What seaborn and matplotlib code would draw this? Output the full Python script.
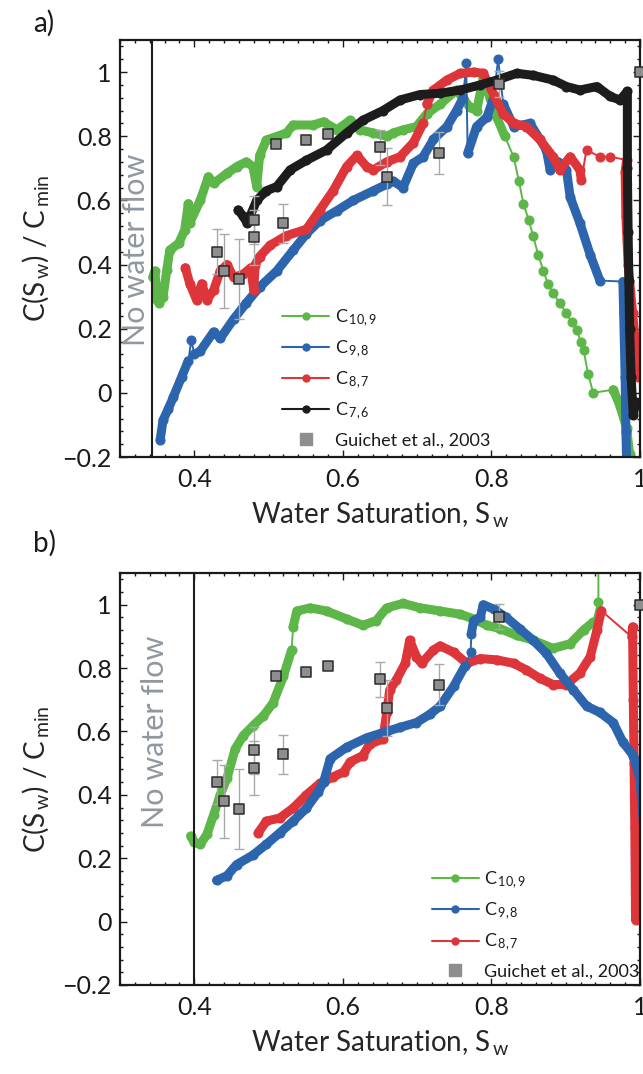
import numpy as np
import pandas as pd
import matplotlib
matplotlib.use('Agg')
import matplotlib.pyplot as plt
import matplotlib.ticker as mticker
from matplotlib.lines import Line2D
import seaborn as sns

# ── Data: panel a ────────────────────────────────────────────
a_green_x = [0.344, 0.347, 0.350, 0.353, 0.358, 0.363, 0.367, 0.379, 0.387, 0.392,
             0.394, 0.408, 0.419, 0.426, 0.444, 0.457, 0.470, 0.479, 0.484, 0.488,
             0.497, 0.524, 0.533, 0.560, 0.574, 0.592, 0.610, 0.623, 0.641, 0.659,
             0.668, 0.681, 0.699, 0.713, 0.731, 0.753, 0.771, 0.780, 0.789, 0.798,
             0.807, 0.818, 0.830, 0.837, 0.843, 0.850, 0.856, 0.863, 0.870, 0.876,
             0.883, 0.892, 0.901, 0.908, 0.915, 0.920, 0.924, 0.930, 0.937, 0.964,
             0.973, 0.982, 0.986, 0.988]
a_green_y = [0.36, 0.38, 0.29, 0.28, 0.30, 0.383, 0.445, 0.466, 0.507, 0.59,
             0.53, 0.60, 0.674, 0.653, 0.684, 0.705, 0.72, 0.705, 0.643, 0.74,
             0.788, 0.81, 0.835, 0.835, 0.845, 0.82, 0.85, 0.82, 0.81, 0.80,
             0.81, 0.82, 0.83, 0.87, 0.90, 0.944, 0.89, 0.88, 0.98, 0.92,
             0.86, 0.80, 0.735, 0.66, 0.59, 0.54, 0.49, 0.43, 0.38, 0.34,
             0.31, 0.28, 0.248, 0.22, 0.196, 0.16, 0.134, 0.06, 0.0, 0.01,
             -0.04, -0.11, -0.19, -0.22]
a_green_thin = list(range(41, 59))

a_blue_x = [0.354, 0.358, 0.365, 0.372, 0.383, 0.392, 0.396, 0.400, 0.408, 0.426,
            0.435, 0.453, 0.470, 0.488, 0.511, 0.533, 0.551, 0.569, 0.592, 0.614,
            0.641, 0.659, 0.668, 0.681, 0.695, 0.708, 0.722, 0.740, 0.753, 0.762,
            0.766, 0.768, 0.780, 0.794, 0.803, 0.809, 0.816, 0.830, 0.852, 0.874,
            0.879, 0.890, 0.901, 0.906, 0.919, 0.933, 0.946, 0.977, 0.978, 0.980,
            0.981, 0.982]
a_blue_y = [-0.147, -0.085, -0.05, -0.012, 0.05, 0.10, 0.165, 0.12, 0.13, 0.19,
            0.17, 0.23, 0.28, 0.33, 0.38, 0.444, 0.496, 0.537, 0.568, 0.60,
            0.63, 0.65, 0.66, 0.64, 0.716, 0.736, 0.79, 0.83, 0.88, 0.92,
            1.027, 0.747, 0.83, 0.86, 0.92, 1.04, 0.90, 0.83, 0.84, 0.757,
            0.695, 0.72, 0.695, 0.61, 0.53, 0.43, 0.35, 0.347, 0.25, 0.05,
            -0.12, -0.21]
a_blue_thin = [5, 6, 29, 30, 34, 35, 46]

a_red_x = [0.388, 0.394, 0.403, 0.410, 0.417, 0.426, 0.435, 0.444, 0.453, 0.466,
           0.476, 0.480, 0.482, 0.488, 0.502, 0.524, 0.551, 0.569, 0.587, 0.605,
           0.619, 0.632, 0.641, 0.659, 0.677, 0.695, 0.708, 0.713, 0.722, 0.740,
           0.758, 0.776, 0.789, 0.803, 0.816, 0.830, 0.847, 0.865, 0.883, 0.892,
           0.906, 0.919, 0.921, 0.928, 0.946, 0.960, 0.982, 0.980, 0.981, 0.984,
           0.990, 0.995, 0.997]
a_red_y = [0.39, 0.34, 0.29, 0.34, 0.29, 0.32, 0.38, 0.40, 0.36, 0.37,
           0.39, 0.32, 0.40, 0.425, 0.46, 0.49, 0.51, 0.57, 0.63, 0.705,
           0.74, 0.705, 0.695, 0.72, 0.736, 0.78, 0.84, 0.90, 0.944, 0.975,
           0.996, 1.0, 0.996, 0.93, 0.87, 0.84, 0.83, 0.79, 0.736, 0.695,
           0.736, 0.695, 0.665, 0.757, 0.736, 0.736, 0.726, 0.69, 0.55, 0.40,
           0.25, 0.12, 0.05]
a_red_thin = [26, 42, 43, 44, 45]

a_black_x = [0.459, 0.466, 0.471, 0.475, 0.484, 0.497, 0.511, 0.529, 0.551, 0.578,
             0.605, 0.627, 0.654, 0.677, 0.704, 0.731, 0.758, 0.785, 0.807, 0.834,
             0.856, 0.883, 0.901, 0.919, 0.942, 0.960, 0.973, 0.983, 0.983, 0.984,
             0.985, 0.986, 0.988, 0.991, 0.994]
a_black_y = [0.57, 0.55, 0.53, 0.55, 0.60, 0.63, 0.643, 0.695, 0.725, 0.757,
             0.81, 0.85, 0.88, 0.913, 0.93, 0.934, 0.944, 0.96, 0.975, 0.996,
             0.99, 0.975, 0.955, 0.944, 0.955, 0.924, 0.913, 0.94, 0.70, 0.50,
             0.35, 0.20, 0.05, -0.07, -0.03]
a_black_thin = []

a_noflow = 0.343

# ── Data: panel b ────────────────────────────────────────────
b_green_x = [0.395, 0.400, 0.408, 0.417, 0.426, 0.435, 0.444, 0.455, 0.466, 0.479,
             0.493, 0.506, 0.520, 0.531, 0.533, 0.538, 0.556, 0.578, 0.605, 0.627,
             0.645, 0.659, 0.681, 0.704, 0.731, 0.758, 0.776, 0.794, 0.812, 0.834,
             0.856, 0.883, 0.906, 0.924, 0.937, 0.944, 0.944]
b_green_y = [0.27, 0.25, 0.244, 0.275, 0.337, 0.40, 0.452, 0.545, 0.587, 0.618,
             0.649, 0.69, 0.774, 0.857, 0.929, 0.98, 0.99, 0.98, 0.955, 0.935,
             0.95, 0.99, 1.004, 0.99, 0.98, 0.97, 0.955, 0.935, 0.924, 0.903,
             0.888, 0.862, 0.877, 0.92, 0.945, 1.01, 1.12]
b_green_thin = [13, 34, 35]

b_blue_x = [0.430, 0.444, 0.457, 0.479, 0.497, 0.515, 0.533, 0.551, 0.567, 0.574,
            0.583, 0.605, 0.632, 0.659, 0.677, 0.699, 0.717, 0.731, 0.749, 0.764,
            0.772, 0.773, 0.776, 0.785, 0.789, 0.803, 0.820, 0.838, 0.856, 0.874,
            0.892, 0.910, 0.928, 0.946, 0.964, 0.977, 0.991, 1.000, 1.005]
b_blue_y = [0.13, 0.145, 0.18, 0.21, 0.244, 0.28, 0.317, 0.358, 0.41, 0.44,
            0.514, 0.55, 0.58, 0.60, 0.613, 0.628, 0.654, 0.68, 0.742, 0.805,
            0.85, 0.909, 0.95, 0.96, 1.0, 0.986, 0.96, 0.924, 0.888, 0.846,
            0.784, 0.732, 0.68, 0.66, 0.628, 0.566, 0.524, 0.45, 0.30]
b_blue_thin = [19, 20]

b_red_x = [0.486, 0.497, 0.515, 0.533, 0.551, 0.569, 0.587, 0.601, 0.610, 0.627,
           0.636, 0.654, 0.659, 0.663, 0.672, 0.684, 0.690, 0.699, 0.706, 0.722,
           0.731, 0.749, 0.767, 0.785, 0.807, 0.830, 0.847, 0.865, 0.883, 0.901,
           0.919, 0.933, 0.942, 0.948, 0.989, 0.990, 0.991, 0.992, 0.993, 0.994]
b_red_y = [0.28, 0.317, 0.327, 0.358, 0.40, 0.436, 0.457, 0.472, 0.504, 0.524,
           0.56, 0.576, 0.66, 0.73, 0.763, 0.815, 0.888, 0.836, 0.815, 0.857,
           0.87, 0.85, 0.815, 0.83, 0.826, 0.815, 0.794, 0.768, 0.748, 0.748,
           0.784, 0.836, 0.919, 0.981, 0.898, 0.93, 0.70, 0.50, 0.30, 0.005]
b_red_thin = [33]

b_noflow = 0.40

# ── Data: Guichet et al., 2003 (same in both panels) ─────────
guichet_x = [0.43, 0.44, 0.46, 0.48, 0.48, 0.51, 0.52, 0.55, 0.58, 0.65, 0.66, 0.73, 0.81, 1.00]
guichet_y = [0.44, 0.38, 0.355, 0.485, 0.54, 0.775, 0.528, 0.788, 0.806, 0.765, 0.674, 0.748, 0.962, 1.00]
guichet_err = [0.07, 0.115, 0.125, 0.085, 0.075, 0.0, 0.062, 0.0, 0.0, 0.055, 0.088, 0.066, 0.04, 0.0]

x_ticks = [0.4, 0.6, 0.8, 1.0]
x_ticklabels = ['0.4', '0.6', '0.8', '1']
y_ticks = [-0.2, 0, 0.2, 0.4, 0.6, 0.8, 1.0]
y_ticklabels = ['\u22120.2', '0', '0.2', '0.4', '0.6', '0.8', '1']

# ── Style ────────────────────────────────────────────────────
sns.set_theme(style='ticks')
plt.rcParams.update({
    'font.family': ['Lato', 'DejaVu Sans'],
    'mathtext.fontset': 'custom',
    'mathtext.rm': 'Lato',
    'mathtext.it': 'Lato:italic',
    'mathtext.bf': 'Lato:bold',
    'axes.edgecolor': '#1a1a1a',
    'axes.linewidth': 1.6,
    'text.color': '#1a1a1a',
    'xtick.color': '#1a1a1a',
    'ytick.color': '#1a1a1a',
})

GREEN = '#5cb648'
BLUE = '#2c65ad'
RED = '#dd3539'
BLACK = '#1c1c1c'
NOFLOW_GRAY = '#8f989f'


def draw_series(ax, xs, ys, color, thin):
    df = pd.DataFrame({'x': xs, 'y': ys})
    # thin line with dots through every reading
    sns.lineplot(data=df, x='x', y='y', sort=False, estimator=None, ax=ax,
                 color=color, lw=1.4, marker='o', markersize=6.5,
                 markeredgecolor=color, zorder=2)
    # dense stretches drawn as a thick band, broken at the sparse connectors
    start = 0
    for i in sorted(thin) + [len(xs) - 1]:
        seg = df.iloc[start:i + 1]
        if len(seg) > 1:
            sns.lineplot(data=seg, x='x', y='y', sort=False, estimator=None,
                         ax=ax, color=color, lw=6.5, zorder=2,
                         solid_capstyle='round', solid_joinstyle='round')
        start = i + 1


def style_axes(ax, noflow, text_xy):
    ax.axvline(noflow, color=BLACK, lw=1.5, zorder=3)
    ax.text(text_xy[0], text_xy[1], 'No water flow', rotation=90,
            ha='center', va='center', color=NOFLOW_GRAY, fontsize=22)

    ax.errorbar(guichet_x, guichet_y, yerr=guichet_err, fmt='none',
                ecolor='#a9a9a9', elinewidth=1.0, capsize=3.5, zorder=4)
    sns.scatterplot(x=guichet_x, y=guichet_y, ax=ax, marker='s', s=60,
                    color='#8e8e8e', edgecolor='#2b2b2b', linewidth=1.1,
                    zorder=5, clip_on=False)

    ax.set_xlim(0.3, 1.0)
    ax.set_ylim(-0.2, 1.1)
    ax.set_xticks(x_ticks)
    ax.set_xticklabels(x_ticklabels)
    ax.set_yticks(y_ticks)
    ax.set_yticklabels(y_ticklabels)
    ax.xaxis.set_minor_locator(mticker.MultipleLocator(0.02))
    ax.yaxis.set_minor_locator(mticker.MultipleLocator(0.04))
    ax.tick_params(which='both', direction='in', top=True, right=True,
                   width=1.0, labelsize=18)
    ax.tick_params(which='major', length=5)
    ax.tick_params(which='minor', length=2.5)
    ax.tick_params(axis='x', pad=8)
    ax.tick_params(axis='y', pad=6)
    for sp in ax.spines.values():
        sp.set_visible(True)
    ax.set_xlabel(r'Water Saturation, S$_{\,\mathrm{w}}$', fontsize=20, labelpad=7)
    ax.set_ylabel(r'C(S$_{\,\mathrm{w}}$) / C$_{\,\mathrm{min}}$', fontsize=20, labelpad=8)


def make_legend(ax, entries, anchor):
    handles = []
    for lab, col in entries:
        handles.append(Line2D([], [], color=col, lw=1.5, marker='o', markersize=5))
    handles.append(Line2D([], [], ls='none', marker='s', markersize=8,
                          color='#8e8e8e', markeredgecolor='#8e8e8e'))
    labels = [lab for lab, _ in entries] + ['Guichet et al., 2003']
    ax.legend(handles, labels, loc='upper left', bbox_to_anchor=anchor,
              frameon=False, fontsize=13, handlelength=2.6, handletextpad=0.3,
              labelspacing=0.55, borderaxespad=0, borderpad=0, numpoints=1)


fig = plt.figure(figsize=(6.43, 10.74), dpi=100)
ax_a = fig.add_axes([120 / 643, 1 - 457 / 1074, 520 / 643, 417 / 1074])
ax_b = fig.add_axes([120 / 643, 1 - 985 / 1074, 520 / 643, 412 / 1074])

# Panel a
draw_series(ax_a, a_green_x, a_green_y, GREEN, a_green_thin)
draw_series(ax_a, a_blue_x, a_blue_y, BLUE, a_blue_thin)
draw_series(ax_a, a_red_x, a_red_y, RED, a_red_thin)
draw_series(ax_a, a_black_x, a_black_y, BLACK, a_black_thin)
style_axes(ax_a, a_noflow, (0.322, 0.445))
make_legend(ax_a, [(r'C$_{\,\mathrm{10,9}}$', GREEN), (r'C$_{\,\mathrm{9,8}}$', BLUE),
                   (r'C$_{\,\mathrm{8,7}}$', RED), (r'C$_{\,\mathrm{7,6}}$', BLACK)],
            (0.312, 0.359))

# Panel b
draw_series(ax_b, b_green_x, b_green_y, GREEN, b_green_thin)
draw_series(ax_b, b_red_x, b_red_y, RED, b_red_thin)
draw_series(ax_b, b_blue_x, b_blue_y, BLUE, b_blue_thin)
style_axes(ax_b, b_noflow, (0.347, 0.60))
make_legend(ax_b, [(r'C$_{\,\mathrm{10,9}}$', GREEN), (r'C$_{\,\mathrm{9,8}}$', BLUE),
                   (r'C$_{\,\mathrm{8,7}}$', RED)],
            (0.60, 0.28))

fig.text(33 / 643, 1 - 10 / 1074, 'a)', fontsize=20, ha='left', va='top')
fig.text(33 / 643, 1 - 530 / 1074, 'b)', fontsize=20, ha='left', va='top')

fig.savefig('out.png', dpi=100)
